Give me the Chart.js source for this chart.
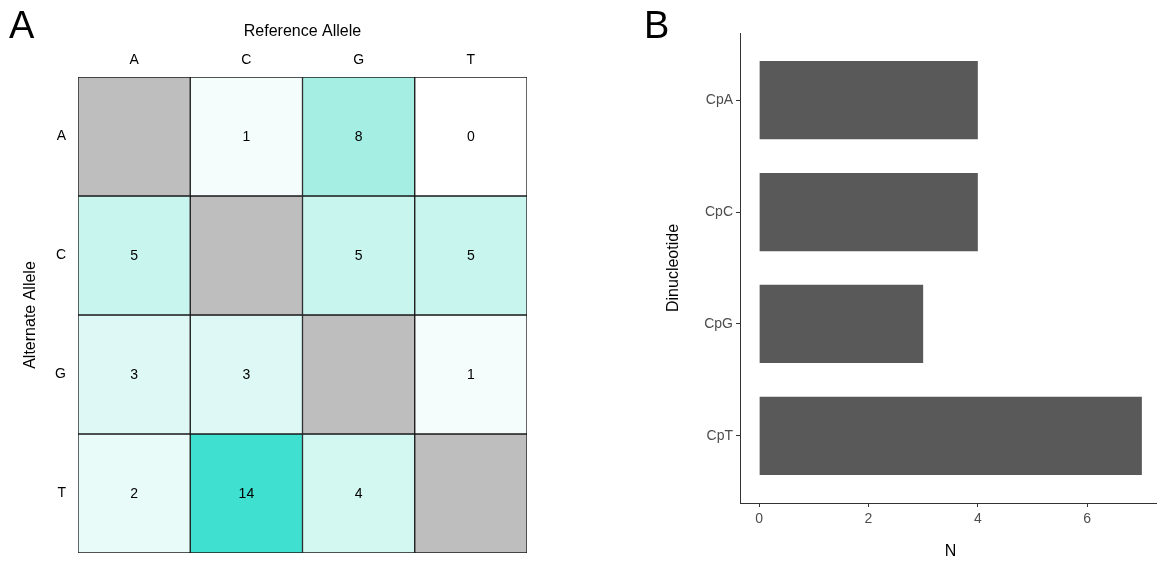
<!DOCTYPE html>
<html>
<head>
<meta charset="utf-8">
<script src="https://cdn.jsdelivr.net/npm/chart.js@4/dist/chart.umd.min.js"></script>
<style>
  body { margin: 0; background: #fff; font-family: "Liberation Sans", Arial, sans-serif; overflow: hidden; }
  #wrap { position: relative; width: 1157px; height: 563px; overflow: hidden; }
  canvas { position: absolute; top: 0; }
  .tag { position: absolute; font-size: 38px; line-height: 1; color: #000; }
</style>
</head>
<body>
<div id="wrap">
  <canvas id="heatmap" width="560" height="563" style="left:0"></canvas>
  <canvas id="bars" width="601" height="563" style="left:560px"></canvas>
  <div class="tag" style="left:9px; top:6px">A</div>
  <div class="tag" style="left:644px; top:6px">B</div>
</div>
<script>
// panel A: counts per alternate allele (rows) and reference allele (columns)
const refAlleles = ['A', 'C', 'G', 'T'];
const altAlleles = ['A', 'C', 'G', 'T'];
const countsA = [null, 1, 8, 0];
const countsC = [5, null, 5, 5];
const countsG = [3, 3, null, 1];
const countsT = [2, 14, 4, null];
const counts = [countsA, countsC, countsG, countsT];

// panel B
const dinucleotides = ['CpA', 'CpC', 'CpG', 'CpT'];
const dinucCounts = [4, 4, 3, 7];
const nTicks = [0, 2, 4, 6];

const FONT = "'Liberation Sans', Arial, sans-serif";
const maxCount = Math.max(...counts.flat().filter(v => v !== null));

// white -> turquoise, interpolated in CIELAB like ggplot's gradient
function toLab(rgb) {
    const lin = rgb.map(function(c) {
        c /= 255;
        return c <= 0.04045 ? c / 12.92 : Math.pow((c + 0.055) / 1.055, 2.4);
    });
    const X = (0.4124 * lin[0] + 0.3576 * lin[1] + 0.1805 * lin[2]) / 0.95047;
    const Y = (0.2126 * lin[0] + 0.7152 * lin[1] + 0.0722 * lin[2]);
    const Z = (0.0193 * lin[0] + 0.1192 * lin[1] + 0.9505 * lin[2]) / 1.08883;
    const f = function(t) { return t > 0.008856 ? Math.cbrt(t) : 7.787 * t + 16 / 116; };
    return [116 * f(Y) - 16, 500 * (f(X) - f(Y)), 200 * (f(Y) - f(Z))];
}
function fromLab(lab) {
    const fy = (lab[0] + 16) / 116, fx = fy + lab[1] / 500, fz = fy - lab[2] / 200;
    const g = function(t) { return t * t * t > 0.008856 ? t * t * t : (t - 16 / 116) / 7.787; };
    const X = g(fx) * 0.95047, Y = g(fy), Z = g(fz) * 1.08883;
    const lin = [
        3.2406 * X - 1.5372 * Y - 0.4986 * Z,
        -0.9689 * X + 1.8758 * Y + 0.0415 * Z,
        0.0557 * X - 0.2040 * Y + 1.0570 * Z
    ];
    return lin.map(function(c) {
        c = c <= 0.0031308 ? 12.92 * c : 1.055 * Math.pow(c, 1 / 2.4) - 0.055;
        return Math.max(0, Math.min(255, Math.round(c * 255)));
    });
}
const labLow = toLab([255, 255, 255]);
const labHigh = toLab([64, 224, 208]);

function cellColour(v) {
    if (v === null) return '#BEBEBE';
    const t = v / maxCount;
    const c = fromLab(labLow.map(function(l, i) { return l + (labHigh[i] - l) * t; }));
    return 'rgb(' + c.join(',') + ')';
}

const cellLabels = {
    id: 'cellLabels',
    afterDatasetsDraw(chart) {
        const ctx = chart.ctx;
        ctx.save();
        ctx.font = '14px ' + FONT;
        ctx.fillStyle = '#000';
        ctx.textAlign = 'center';
        ctx.textBaseline = 'middle';
        chart.data.datasets.forEach(function(ds, i) {
            chart.getDatasetMeta(i).data.forEach(function(bar, j) {
                const v = counts[i][j];
                if (v === null) return;
                ctx.fillText(String(v), bar.x, (bar.y + bar.base) / 2 + 1);
            });
        });
        ctx.restore();
    }
};

new Chart(document.getElementById('heatmap'), {
    type: 'bar',
    data: {
        labels: refAlleles,
        datasets: altAlleles.map(function(alt, r) {
            return {
                label: alt,
                data: refAlleles.map(function() { return [r, r + 1]; }),
                backgroundColor: counts[r].map(cellColour),
                borderColor: '#1a1a1a',
                borderWidth: 1,
                borderSkipped: false,
                grouped: false,
                barPercentage: 1,
                categoryPercentage: 1
            };
        })
    },
    options: {
        responsive: false,
        animation: false,
        layout: { padding: { top: 0, left: 0, right: 33, bottom: 10 } },
        plugins: { legend: { display: false }, tooltip: { enabled: false } },
        scales: {
            x: {
                position: 'top',
                grid: { display: false, drawTicks: false },
                border: { display: false },
                ticks: { color: '#000', font: { family: FONT, size: 14 }, padding: 8 },
                title: { display: true, text: 'Reference Allele', color: '#000',
                         font: { family: FONT, size: 16 }, padding: { top: 22, bottom: 0 } },
                afterFit: function(s) { s.height = 77; s.paddingLeft = 0; s.paddingRight = 0; }
            },
            y: {
                min: 0,
                max: 4,
                reverse: true,
                grid: { display: false, drawTicks: false },
                border: { display: false },
                afterBuildTicks: function(s) {
                    s.ticks = altAlleles.map(function(a, i) { return { value: i + 0.5 }; });
                },
                ticks: {
                    color: '#000',
                    font: { family: FONT, size: 14 },
                    padding: 12,
                    callback: function(v) { return altAlleles[Math.floor(v)]; }
                },
                title: { display: true, text: 'Alternate Allele', color: '#000',
                         font: { family: FONT, size: 16 }, padding: { top: 21, bottom: 0 } },
                afterFit: function(s) { s.width = 78; s.paddingTop = 0; s.paddingBottom = 0; }
            }
        }
    },
    plugins: [cellLabels]
});

new Chart(document.getElementById('bars'), {
    type: 'bar',
    data: {
        datasets: [{
            label: 'N',
            data: dinucleotides.map(function(d, i) { return { x: dinucCounts[i], y: i }; }),
            backgroundColor: '#595959',
            borderWidth: 0,
            barPercentage: 1,
            categoryPercentage: 0.7
        }]
    },
    options: {
        indexAxis: 'y',
        responsive: false,
        animation: false,
        layout: { padding: { top: 33, left: 0, right: 0, bottom: 0 } },
        plugins: { legend: { display: false }, tooltip: { enabled: false } },
        scales: {
            x: {
                type: 'linear',
                min: -0.35,
                max: 7.35,
                afterBuildTicks: function(s) {
                    s.ticks = nTicks.map(function(v) { return { value: v }; });
                },
                grid: { display: true, drawOnChartArea: false, drawTicks: true, tickLength: 4, color: '#333' },
                border: { display: true, color: '#333', width: 1 },
                ticks: { color: '#4D4D4D', font: { family: FONT, size: 14 }, padding: 4 },
                title: { display: true, text: 'N', color: '#000',
                         font: { family: FONT, size: 16 }, padding: { top: 0, bottom: 2 } },
                afterFit: function(s) { s.height = 60; s.paddingLeft = 0; s.paddingRight = 0; }
            },
            y: {
                type: 'linear',
                offset: false,
                min: -0.6,
                max: 3.6,
                reverse: true,
                afterBuildTicks: function(s) {
                    s.ticks = dinucleotides.map(function(d, i) { return { value: i }; });
                },
                grid: { display: true, offset: false, drawOnChartArea: false, drawTicks: true, tickLength: 4, color: '#333' },
                border: { display: true, color: '#333', width: 1 },
                ticks: {
                    color: '#4D4D4D',
                    font: { family: FONT, size: 14 },
                    padding: 3,
                    callback: function(v) { return dinucleotides[v]; }
                },
                title: { display: true, text: 'Dinucleotide', color: '#000',
                         font: { family: FONT, size: 16 }, padding: { top: 104, bottom: 0 } },
                afterFit: function(s) { s.width = 180; s.paddingTop = 0; s.paddingBottom = 0; }
            }
        }
    }
});
</script>
</body>
</html>
